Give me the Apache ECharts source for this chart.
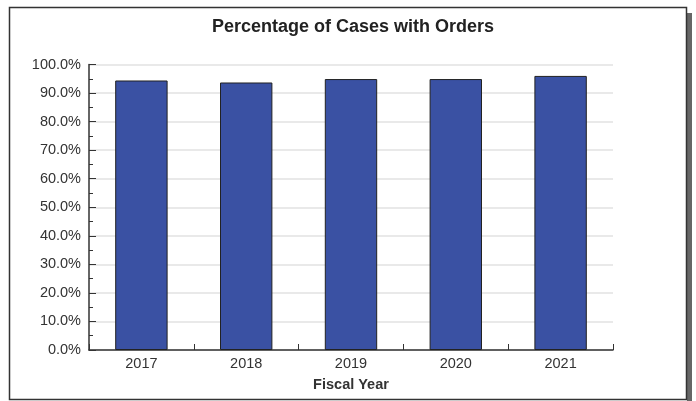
<!DOCTYPE html>
<html><head><meta charset="utf-8">
<script src="https://cdn.jsdelivr.net/npm/echarts@6/dist/echarts.min.js"></script>
<style>html,body{margin:0;padding:0;background:#fff}#c{width:696px;height:401px}</style>
</head><body><div id="c"></div>
<script>
const categories = ['2017','2018','2019','2020','2021'];
const values = [94.4, 93.7, 94.9, 94.9, 96.0];
const chart = echarts.init(document.getElementById('c'), null, {renderer:'canvas'});
const F = '"Liberation Sans", Arial, sans-serif';
chart.setOption({
  animation:false,
  title:{text:'Percentage of Cases with Orders',left:207,top:13,
    textStyle:{fontFamily:F,fontSize:18,fontWeight:'bold',color:'#222'}},
  graphic:[
    {type:'rect',shape:{x:687,y:13,width:5,height:388},style:{fill:'#666'},silent:true},
    {type:'rect',shape:{x:9.5,y:7.5,width:677,height:392},style:{fill:null,stroke:'#333',lineWidth:1.5},silent:true}
  ],
  grid:{left:89,right:83,top:64.5,bottom:51},
  xAxis:{type:'category',data:categories,
    axisLine:{lineStyle:{color:'#333',width:1.5}},
    axisTick:{show:true,inside:true,length:6,lineStyle:{color:'#333'}},
    axisLabel:{fontFamily:F,fontSize:14.5,color:'#333',margin:6},
    name:'Fiscal Year',nameLocation:'middle',nameGap:27,
    nameTextStyle:{fontFamily:F,fontSize:14.5,fontWeight:'bold',color:'#333'}},
  yAxis:{type:'value',min:0,max:100,interval:10,
    axisLine:{show:true,lineStyle:{color:'#333',width:1.5}},
    axisTick:{show:true,inside:true,length:7,lineStyle:{color:'#333'}},
    minorTick:{show:true,splitNumber:2,length:4,lineStyle:{color:'#333'}},
    axisLabel:{fontFamily:F,fontSize:14.5,color:'#333',margin:8,formatter:v=>v.toFixed(1)+'%'},
    splitLine:{lineStyle:{color:'#e2e2e2',width:1.5}}},
  series:[{type:'bar',data:values,barWidth:'50%',
    itemStyle:{color:'#3A51A3',borderColor:'#222',borderWidth:1}}]
});
</script></body></html>
